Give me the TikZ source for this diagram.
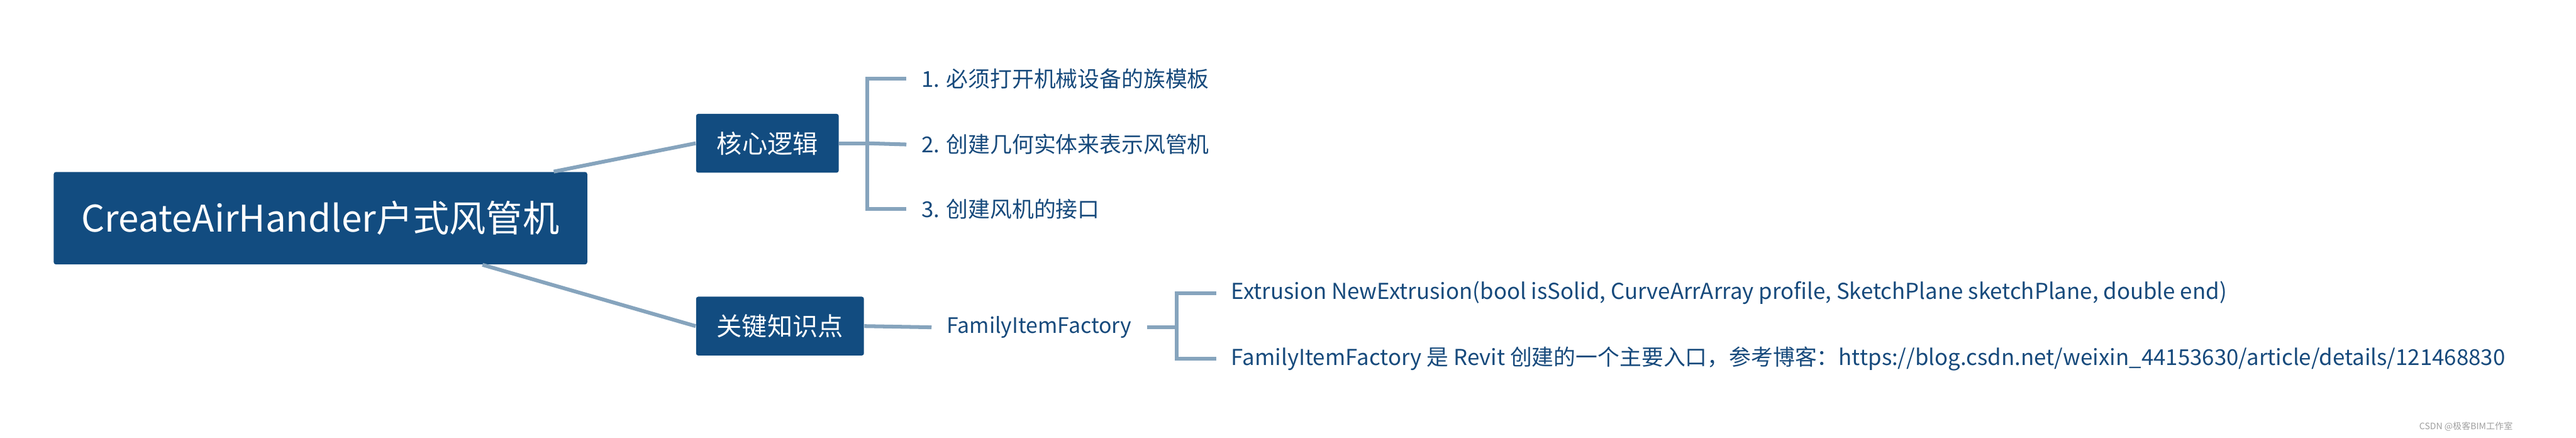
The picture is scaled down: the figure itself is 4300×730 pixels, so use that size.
\documentclass[tikz,border=0pt]{standalone}
\usepackage{fontspec}
\setmainfont{Noto Sans CJK SC}
\usepackage{tikz}

\definecolor{boxblue}{RGB}{18,76,128}
\definecolor{txtblue}{RGB}{23,74,124}
\definecolor{linkgray}{RGB}{134,164,189}

\begin{document}
\begin{tikzpicture}[x=0.01cm,y=-0.01cm,
    topic/.style={fill=boxblue,text=white,rounded corners=1pt,inner sep=0pt,minimum height=0.98cm},
    leaf/.style={text=txtblue,anchor=west,inner xsep=0.245cm,inner ysep=0pt,font=\fontsize{10.4}{12}\selectfont},
    link/.style={draw=linkgray,line width=1.8pt}]
  \useasboundingbox (0,0) rectangle (4300,730);

  \node[topic,minimum width=8.9cm,minimum height=1.54cm,font=\fontsize{17.4}{20}\selectfont] (root) at (535,364) {CreateAirHandler户式风管机};
  \node[topic,minimum width=2.38cm,font=\fontsize{12}{14}\selectfont] (core) at (1281,239) {核心逻辑};
  \node[topic,minimum width=2.8cm,font=\fontsize{12}{14}\selectfont] (key) at (1302,544) {关键知识点};

  \draw[link] (root) -- (core.west);
  \draw[link] (root) -- (key.west);

  % 核心逻辑
  \node[leaf] (s1) at (1513,131) {1. 必须打开机械设备的族模板};
  \node[leaf] (s2) at (1513,241) {2. 创建几何实体来表示风管机};
  \node[leaf] (s3) at (1513,349) {3. 创建风机的接口};
  \coordinate (fork1) at (1448,239);
  \draw[link] (core.east) -- (fork1);
  \draw[link] (fork1) |- (s1.west);
  \draw[link] (fork1) -- (s2.west);
  \draw[link] (fork1) |- (s3.west);

  % 关键知识点
  \node[leaf,font=\fontsize{10.1}{12}\selectfont] (fif) at (1555,546) {FamilyItemFactory};
  \draw[link] (key.east) -- (fif.west);
  \node[leaf] (e1) at (2030,489) {Extrusion NewExtrusion(bool isSolid, CurveArrArray profile, SketchPlane sketchPlane, double end)};
  \node[leaf] (e2) at (2030,598) {FamilyItemFactory 是 Revit 创建的一个主要入口，参考博客：https://blog.csdn.net/weixin\_44153630/article/details/121468830};
  \coordinate (fork2) at (1964,546);
  \draw[link] (fif.east) -- (fork2);
  \draw[link] (fork2) |- (e1.west);
  \draw[link] (fork2) |- (e2.west);

  \node[text=gray!75,anchor=east,inner sep=0pt,font=\fontsize{4.2}{5}\selectfont] (mark) at (4195,711) {CSDN @极客BIM工作室};
\end{tikzpicture}
\end{document}
